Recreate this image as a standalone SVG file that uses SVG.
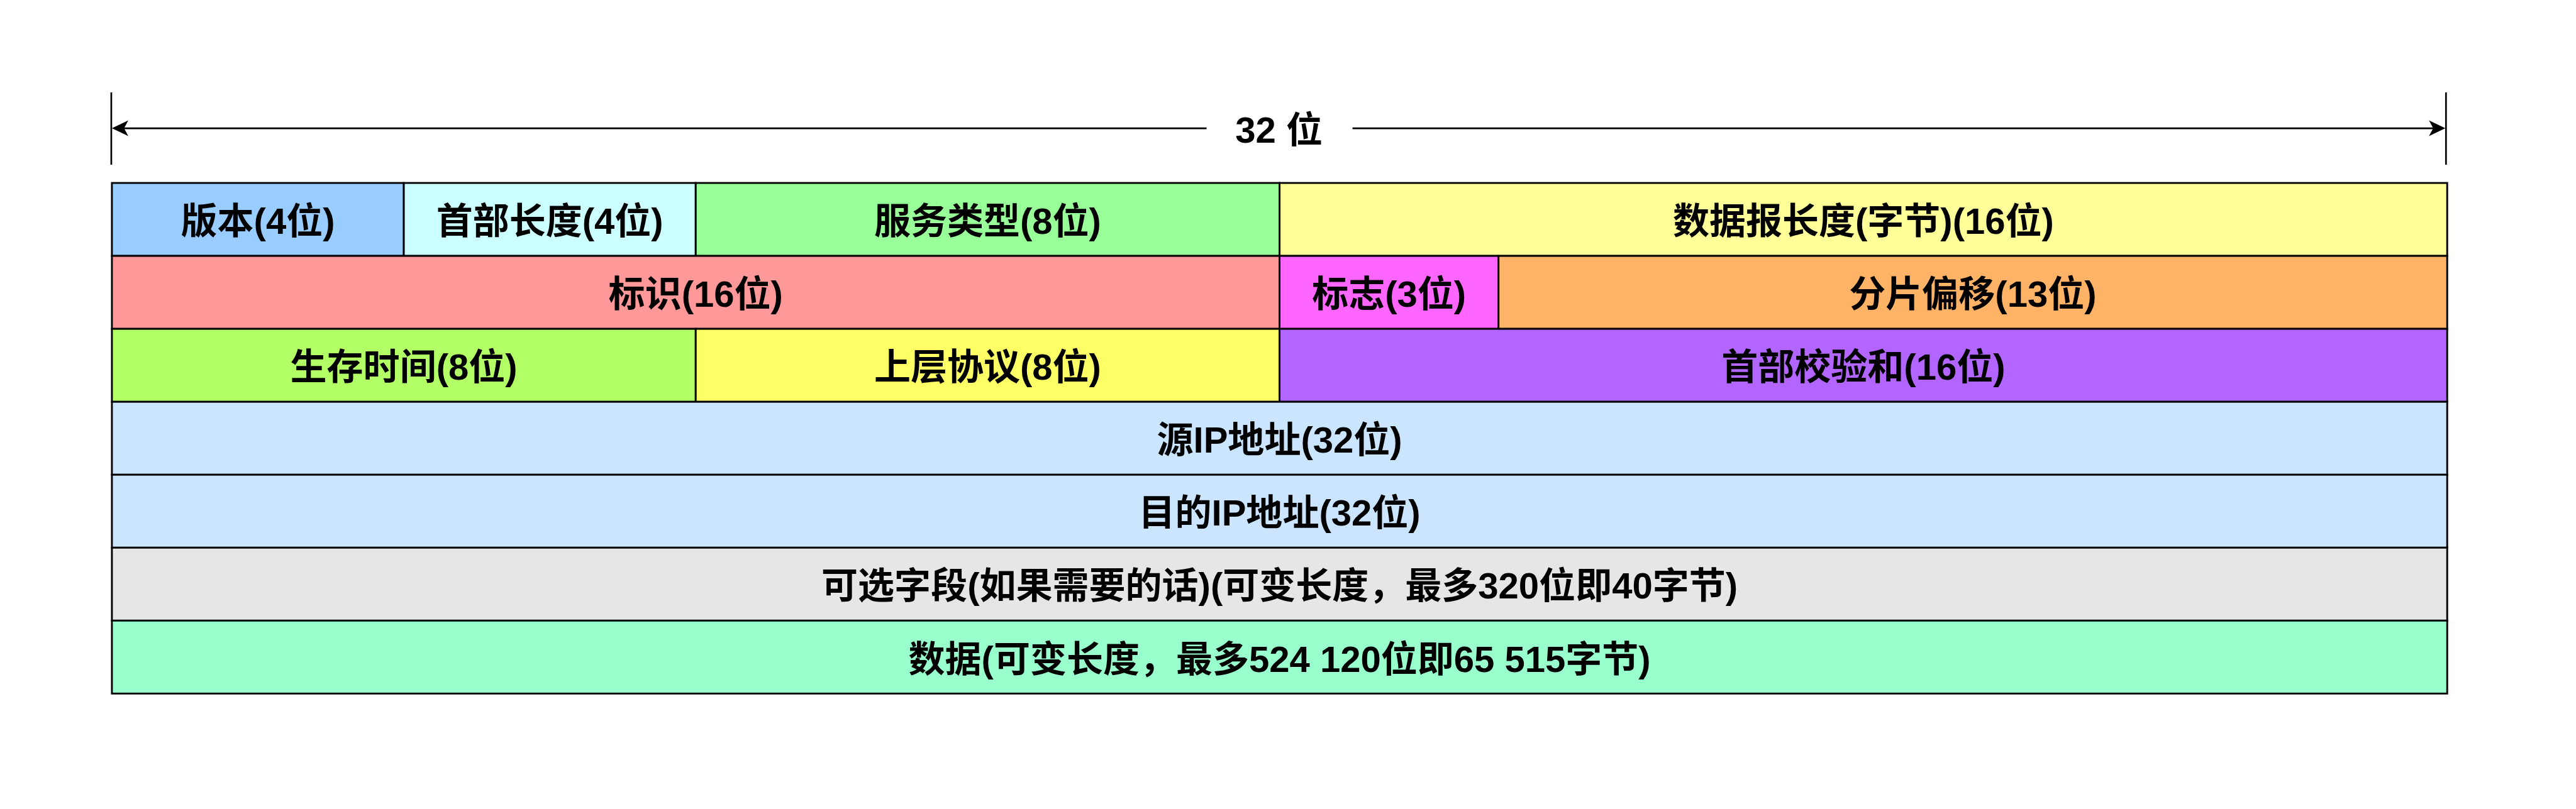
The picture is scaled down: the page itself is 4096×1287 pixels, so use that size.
<svg xmlns="http://www.w3.org/2000/svg" width="4096" height="1287" viewBox="0 0 4096 1287">
<style>
.c{stroke:#000;stroke-width:3}
.t{font-family:"Liberation Sans","Noto Sans CJK SC",sans-serif;font-weight:bold;font-size:60px;text-anchor:middle;fill:#000}
.ln{stroke:#000;stroke-width:2.8;fill:none}
</style>
<rect width="4096" height="1287" fill="#fff"/>
<g transform="scale(0.967)">
<g id="connectors">
<line class="ln" x1="183" y1="152" x2="183" y2="271"/>
<line class="ln" x1="4022" y1="152" x2="4022" y2="271"/>
<line class="ln" x1="200" y1="211" x2="1984" y2="211"/>
<line class="ln" x1="2224" y1="211" x2="4005" y2="211"/>
<path d="M184 211 L211 198 L204 211 L211 224 Z" fill="#000"/>
<path d="M4021 211 L3994 198 L4001 211 L3994 224 Z" fill="#000"/>
</g>
<g id="width-label"><text class="t" x="2103" y="235">32 位</text></g>
<g id="version"><rect class="c" x="184" y="301" width="480" height="120" fill="#99CCFF"/><text class="t" x="424" y="385">版本(4位)</text></g>
<g id="header-length"><rect class="c" x="664" y="301" width="480" height="120" fill="#CCFFFF"/><text class="t" x="904" y="385">首部长度(4位)</text></g>
<g id="service-type"><rect class="c" x="1144" y="301" width="960" height="120" fill="#99FF99"/><text class="t" x="1624" y="385">服务类型(8位)</text></g>
<g id="total-length"><rect class="c" x="2104" y="301" width="1920" height="120" fill="#FFFF99"/><text class="t" x="3064" y="385">数据报长度(字节)(16位)</text></g>
<g id="identification"><rect class="c" x="184" y="421" width="1920" height="120" fill="#FF9999"/><text class="t" x="1144" y="505">标识(16位)</text></g>
<g id="flags"><rect class="c" x="2104" y="421" width="360" height="120" fill="#FF66FF"/><text class="t" x="2284" y="505">标志(3位)</text></g>
<g id="fragment-offset"><rect class="c" x="2464" y="421" width="1560" height="120" fill="#FFB366"/><text class="t" x="3244" y="505">分片偏移(13位)</text></g>
<g id="ttl"><rect class="c" x="184" y="541" width="960" height="120" fill="#B3FF66"/><text class="t" x="664" y="625">生存时间(8位)</text></g>
<g id="protocol"><rect class="c" x="1144" y="541" width="960" height="120" fill="#FFFF66"/><text class="t" x="1624" y="625">上层协议(8位)</text></g>
<g id="checksum"><rect class="c" x="2104" y="541" width="1920" height="120" fill="#B266FF"/><text class="t" x="3064" y="625">首部校验和(16位)</text></g>
<g id="source-ip"><rect class="c" x="184" y="661" width="3840" height="120" fill="#CCE5FF"/><text class="t" x="2104" y="745">源IP地址(32位)</text></g>
<g id="dest-ip"><rect class="c" x="184" y="781" width="3840" height="120" fill="#CCE5FF"/><text class="t" x="2104" y="865">目的IP地址(32位)</text></g>
<g id="options"><rect class="c" x="184" y="901" width="3840" height="120" fill="#E6E6E6"/><text class="t" x="2104" y="985">可选字段(如果需要的话)(可变长度，最多320位即40字节)</text></g>
<g id="data"><rect class="c" x="184" y="1021" width="3840" height="120" fill="#99FFCC"/><text class="t" x="2104" y="1105">数据(可变长度，最多524 120位即65 515字节)</text></g>
</g>
</svg>
